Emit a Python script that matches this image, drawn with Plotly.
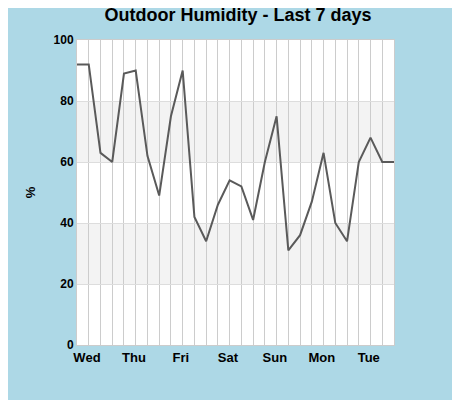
import plotly.graph_objects as go

# 6-hourly readings, 4 per day
humidity = [92, 92, 63, 60, 89, 90, 62, 49, 75, 90, 42, 34, 46, 54, 52, 41,
            60, 75, 31, 36, 47, 63, 40, 34, 60, 68, 60, 60]
days = ["Wed", "Thu", "Fri", "Sat", "Sun", "Mon", "Tue"]
day_pos = [4 * i + 0.85 for i in range(len(days))]

fig = go.Figure()
fig.add_scatter(x=list(range(len(humidity))), y=humidity, mode="lines",
                line=dict(color="#5a5a5a", width=2), showlegend=False)

# alternating bands
for lo in (20, 60):
    fig.add_shape(type="rect", xref="paper", x0=0, x1=1, y0=lo, y1=lo + 20,
                  fillcolor="#f3f3f3", line_width=0, layer="below")

fig.update_layout(
    width=460, height=400,
    paper_bgcolor="#add8e6", plot_bgcolor="white",
    margin=dict(l=69, r=74, t=32, b=63),
    font=dict(family="Liberation Sans, Arial", color="black"),
    title=dict(text="<b>Outdoor Humidity - Last 7 days</b>", x=0.5, y=1,
               yanchor="top", xanchor="center", pad=dict(t=0),
               font=dict(size=18)),
)
fig.update_xaxes(range=[0, len(humidity) - 1], tickvals=day_pos, ticktext=days,
                 showgrid=False, zeroline=False, tickfont=dict(size=13, weight="bold"),
                 ticks="", minor=dict(dtick=1, tick0=0, showgrid=True, gridcolor="#cccccc"),
                 showline=True, linecolor="#cccccc", mirror=True)
fig.update_yaxes(range=[0, 100], dtick=20, gridcolor="#dddddd", zeroline=False,
                 tickfont=dict(size=12, weight="bold"),
                 title=dict(text="<b>%</b>", font=dict(size=13)),
                 showline=True, linecolor="#cccccc", mirror=True)

fig.write_html("out.html")
